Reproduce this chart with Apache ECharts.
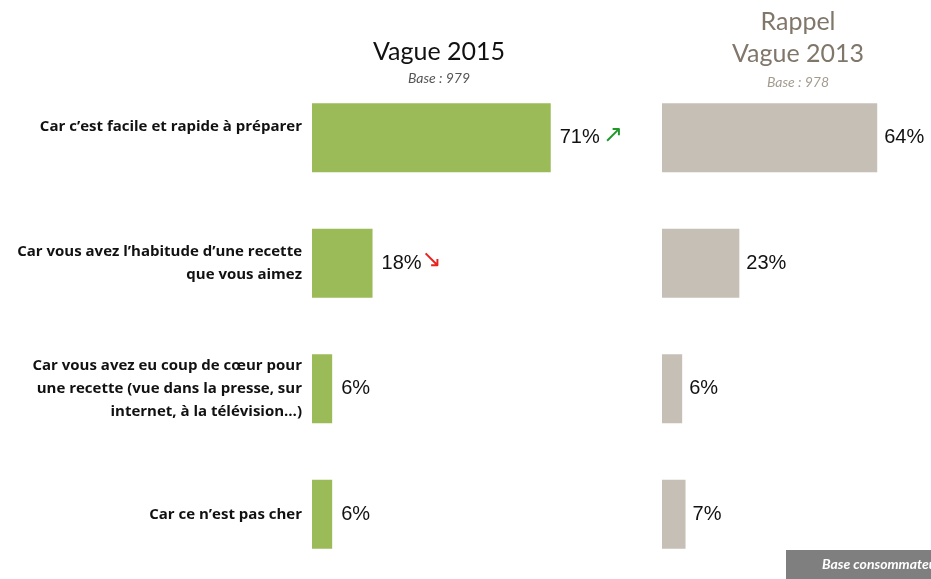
<!DOCTYPE html>
<html>
<head>
<meta charset="utf-8">
<script src="https://cdn.jsdelivr.net/npm/echarts@6/dist/echarts.min.js"></script>
<style>
  html, body { margin: 0; padding: 0; background: #fff; }
  #chart { width: 931px; height: 579px; }
</style>
</head>
<body>
<div id="chart"></div>
<script>
// raisons, de haut en bas
const categories = [
  'Car c\u2019est facile et rapide à préparer',
  'Car vous avez l\u2019habitude d\u2019une recette\nque vous aimez',
  'Car vous avez eu coup de cœur pour\nune recette (vue dans la presse, sur\ninternet, à la télévision…)',
  'Car ce n\u2019est pas cher'
]
const vague2015 = [71, 18, 6, 6]
const vague2013 = [64, 23, 6, 7]
// évolution significative vs 2013
const trend2015 = ['up', 'down', null, null]

const chart = echarts.init(document.getElementById('chart'))

const valueFont = { fontFamily: 'Liberation Sans', fontSize: 20, color: '#111' }
const catFont = { fontFamily: 'Open Sans', fontWeight: 'bold', fontSize: 15, lineHeight: 23, color: '#111' }

const option = {
  animation: false,
  title: [
    {
      text: 'Vague 2015',
      subtext: 'Base : 979',
      left: 434, top: 34, textAlign: 'center', itemGap: 7,
      textStyle: { fontFamily: 'Lato', fontSize: 25, fontWeight: 'normal', color: '#111' },
      subtextStyle: { fontFamily: 'Lato', fontSize: 14, fontStyle: 'italic', color: '#555' }
    },
    {
      text: 'Rappel\nVague 2013',
      subtext: 'Base : 978',
      left: 793, top: 1, textAlign: 'center', itemGap: 5,
      textStyle: { fontFamily: 'Lato', fontSize: 25, fontWeight: 'normal', color: '#80776a', lineHeight: 32 },
      subtextStyle: { fontFamily: 'Lato', fontSize: 14, fontStyle: 'italic', color: '#a39b90' }
    }
  ],
  grid: [
    { left: 312, top: 75, width: 269, height: 502 },
    { left: 662, top: 75, width: 269, height: 502 }
  ],
  xAxis: [
    { gridIndex: 0, type: 'value', min: 0, max: 80, show: false },
    { gridIndex: 1, type: 'value', min: 0, max: 80, show: false }
  ],
  yAxis: [
    {
      gridIndex: 0, type: 'category', data: categories, inverse: true,
      axisLine: { show: false }, axisTick: { show: false },
      axisLabel: {
        margin: 10, align: 'right', ...catFont,
        // le premier libellé est un peu remonté dans l'original
        formatter: (v, i) => (i === 0 ? '{up|' + v + '}' : v),
        rich: { up: { ...catFont, padding: [0, 0, 22, 0] } }
      }
    },
    {
      gridIndex: 1, type: 'category', data: categories, inverse: true,
      axisLine: { show: false }, axisTick: { show: false }, axisLabel: { show: false }
    }
  ],
  series: [
    {
      type: 'bar', xAxisIndex: 0, yAxisIndex: 0, data: vague2015,
      barWidth: 69, itemStyle: { color: '#9bbb59' },
      label: {
        show: true, position: 'right', distance: 9,
        formatter: (p) => {
          const t = trend2015[p.dataIndex]
          if (t === 'up') return '{v|' + p.value + '%} {up|\u2197}'
          if (t === 'down') return '{v|' + p.value + '%}{down|\u2198}'
          return '{v|' + p.value + '%}'
        },
        rich: {
          v: valueFont,
          up: { fontFamily: 'DejaVu Sans', fontSize: 24, color: '#1f9a2a', padding: [0, 0, 4, 0] },
          down: { fontFamily: 'DejaVu Sans', fontSize: 24, color: '#e8231e', padding: [0, 0, 4, 0] }
        }
      }
    },
    {
      type: 'bar', xAxisIndex: 1, yAxisIndex: 1, data: vague2013,
      barWidth: 69, itemStyle: { color: '#c6bfb5' },
      label: {
        show: true, position: 'right', distance: 7,
        formatter: '{c}%', ...valueFont
      }
    }
  ],
  graphic: [
    {
      type: 'rect', left: 786, top: 550,
      shape: { width: 160, height: 30 },
      style: { fill: '#7f7f7f' }
    },
    {
      type: 'text', left: 822, top: 557,
      style: {
        text: 'Base consommateurs', fill: '#fff',
        font: 'italic bold 14px Lato'
      }
    }
  ]
}

chart.setOption(option)
</script>
</body>
</html>
